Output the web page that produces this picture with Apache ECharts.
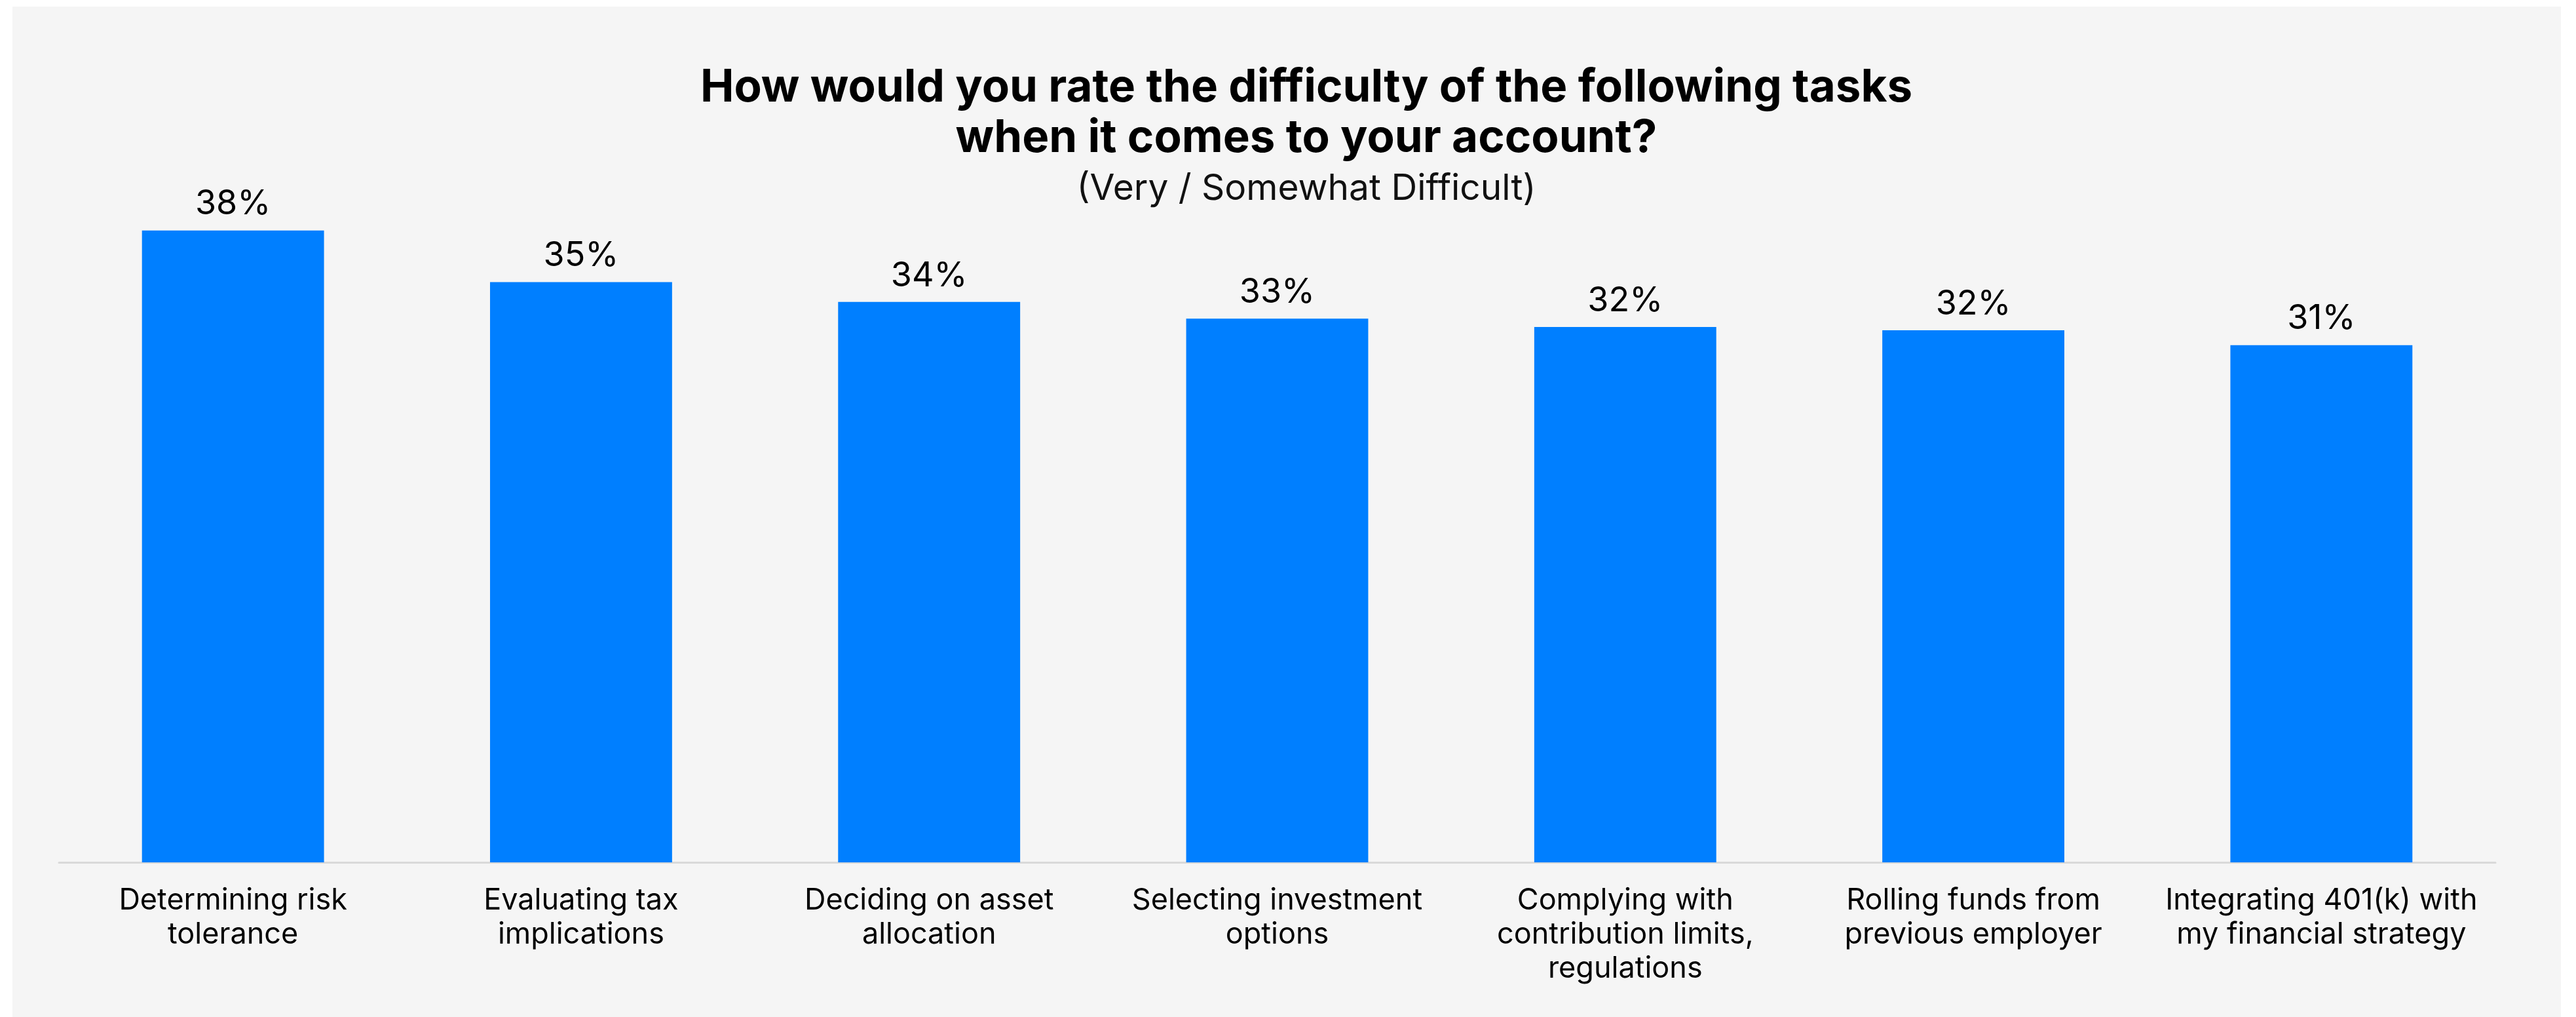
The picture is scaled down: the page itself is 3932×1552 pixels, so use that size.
<!DOCTYPE html>
<html>
<head>
<meta charset="utf-8">
<title>Task difficulty</title>
<script src="https://cdn.jsdelivr.net/npm/echarts@6/dist/echarts.min.js"></script>
<style>
  html, body { margin: 0; padding: 0; background: #ffffff; }
  #chart { width: 3932px; height: 1552px; }
</style>
</head>
<body>
<div id="chart"></div>
<script>
// Survey tasks (line breaks as printed under each bar)
const tasks = [
  'Determining risk\ntolerance',
  'Evaluating tax\nimplications',
  'Deciding on asset\nallocation',
  'Selecting investment\noptions',
  'Complying with\ncontribution limits,\nregulations',
  'Rolling funds from\nprevious employer',
  'Integrating 401(k) with\nmy financial strategy'
];

// Share answering "Very / Somewhat Difficult", in percent
const difficultShare = [38.0, 34.9, 33.7, 32.7, 32.2, 32.0, 31.1];

const titleLines = [
  'How would you rate the difficulty of the following tasks',
  'when it comes to your account?'
];
const subtitle = '(Very / Somewhat Difficult)';

const FONT = 'Inter, "Noto Sans", sans-serif';
const BAR_BLUE = '#007fff';

const chart = echarts.init(document.getElementById('chart'), null, { renderer: 'canvas' });

chart.setOption({
  backgroundColor: '#ffffff',
  animation: false,
  graphic: [{
    type: 'rect',
    z: -10,
    shape: { x: 19, y: 10, width: 3890, height: 1542 },
    style: { fill: '#f5f5f5' }
  }],
  title: {
    text: titleLines.join('\n'),
    subtext: subtitle,
    // heading is centred on this x position, a little right of the page middle
    left: 1994,
    textAlign: 'center',
    top: 96,
    padding: 0,
    itemGap: 8,
    textStyle: {
      fontFamily: FONT,
      fontWeight: 'bold',
      fontSize: 69,
      lineHeight: 77,
      color: '#000000'
    },
    subtextStyle: {
      fontFamily: FONT,
      fontWeight: 'normal',
      fontSize: 55,
      lineHeight: 60,
      color: '#111111'
    }
  },
  grid: {
    left: 90,
    right: 123,
    top: 301,
    bottom: 236,
    containLabel: false
  },
  xAxis: {
    type: 'category',
    data: tasks,
    axisLine: { show: true, lineStyle: { color: '#d9d9d9', width: 3 } },
    axisTick: { show: false },
    axisLabel: {
      interval: 0,
      margin: 32,
      fontFamily: FONT,
      fontSize: 45,
      lineHeight: 52,
      color: '#000000'
    }
  },
  yAxis: {
    type: 'value',
    min: 0,
    max: 40,
    show: false,
    splitLine: { show: false }
  },
  series: [{
    type: 'bar',
    data: difficultShare,
    barWidth: '52.3%',
    itemStyle: { color: BAR_BLUE },
    label: {
      show: true,
      position: 'top',
      distance: 14,
      fontFamily: FONT,
      fontSize: 52,
      color: '#000000',
      formatter: p => Math.round(p.value) + '%'
    }
  }]
});
</script>
</body>
</html>
